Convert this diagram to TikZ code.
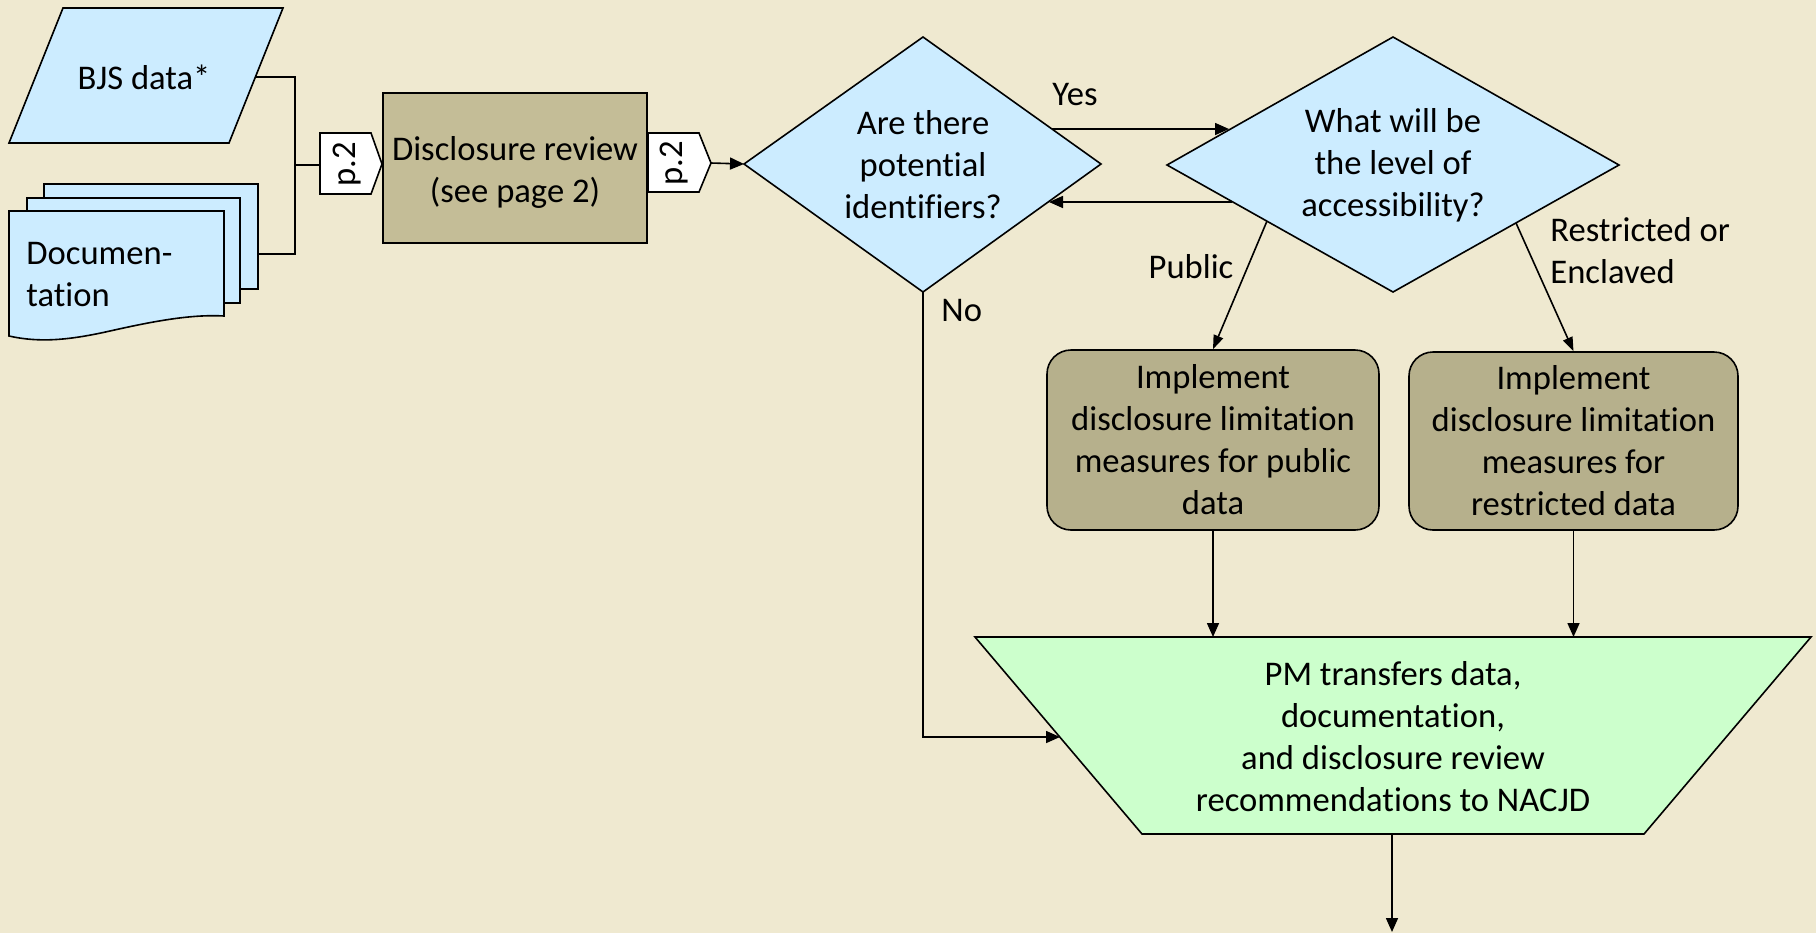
\documentclass[tikz,border=0pt]{standalone}
\usepackage{fontspec}
\setmainfont{Carlito}[Ligatures=NoCommon]
\usetikzlibrary{arrows.meta,calc}
\definecolor{bg}{RGB}{239,233,208}
\definecolor{lblue}{RGB}{204,236,255}
\definecolor{tanA}{RGB}{196,189,151}
\definecolor{tanB}{RGB}{182,176,140}
\definecolor{lgreen}{RGB}{204,255,204}
\begin{document}
\begin{tikzpicture}[x=0.5pt,y=-0.5pt,
  every node/.style={font=\fontsize{17.3}{21}\selectfont, inner sep=0pt},
  ln/.style={line width=0.8pt},
  shp/.style={ln, draw=black, line join=miter},
  arr/.style={ln,-{Triangle[length=7pt,width=6pt]}},
  arrn/.style={ln,-{Triangle[length=7pt,width=5pt]}},
  implbox/.style={shp, draw, rounded corners=12pt, align=center, fill=tanB}]
\fill[bg] (0,0) rectangle (1816,933);
\useasboundingbox (0,0) rectangle (1816,933);

% BJS data (parallelogram)
\draw[shp, fill=lblue] (63,8) -- (283,8) -- (229,143) -- (9,143) -- cycle;
\node (bjs) at (144,77) {BJS data*};
\coordinate (bjsR) at (256,77);

% Documentation (multi-document)
\draw[shp, fill=lblue] (44,184) rectangle (258,289);
\draw[shp, fill=lblue] (27,198) rectangle (240,303);
\draw[shp, fill=lblue] (9,211) -- (224,211) -- (224,316)
  .. controls (190,314) and (150,322) .. (110,331)
  .. controls (70,340) and (40,343) .. (9,336) -- cycle;
\node[anchor=west, align=left] (doc) at (26,275) {Documen-\\tation};
\coordinate (docR) at (258,254);

% junction
\coordinate (jn) at (295,165);
\draw[ln] (bjsR) -- (bjsR -| jn) -- (docR -| jn) -- (docR);

% off-page connector 1
\draw[shp, fill=white] (320,133) -- (371,133) -- (382,164) -- (371,194) -- (320,194) -- cycle;
\node[rotate=90] (op1) at (347,164) {p.2};
\coordinate (op1L) at (320,165);
\draw[ln] (jn) -- (op1L);

% Disclosure review
\node[shp, draw, fill=tanA, minimum width=132pt, minimum height=75pt] (dr) at (515,168) {};
\node[align=center] (drt) at (515,172) {Disclosure review\\(see page 2)};

% off-page connector 2
\draw[shp, fill=white] (648,133) -- (699,133) -- (711,163) -- (699,192) -- (648,192) -- cycle;
\node[rotate=90] (op2) at (674,163) {p.2};
\coordinate (op2R) at (711,163);

% Diamond 1
\coordinate (d1T) at (923,37);
\coordinate (d1R) at (1101,164);
\coordinate (d1B) at (923,292);
\coordinate (d1L) at (744,164);
\draw[shp, fill=lblue] (d1T) -- (d1R) -- (d1B) -- (d1L) -- cycle;
\node[align=center] (d1) at (923,165) {Are there\\potential\\identifiers?};

% Diamond 2
\coordinate (d2T) at (1393,37);
\coordinate (d2R) at (1619,165);
\coordinate (d2B) at (1393,292);
\coordinate (d2L) at (1167,165);
\draw[shp, fill=lblue] (d2T) -- (d2R) -- (d2B) -- (d2L) -- cycle;
\node[align=center] (d2) at (1393,165) {What will be\\the level of\\accessibility?};

\draw[arr] (op2R) -- (d1L);

% Yes / back arrows
\coordinate (yesS) at (1052,129);
\coordinate (yesE) at (1229,129);
\draw[arr] (yesS) -- (yesE);
\node (yes) at (1075,95) {Yes};
\coordinate (backS) at (1232,202);
\coordinate (backE) at (1049,202);
\draw[arr] (backS) -- (backE);

% Implement boxes
\node[implbox, minimum width=166pt, minimum height=90pt] (im1) at (1213,440)
  {Implement\\disclosure limitation\\measures for public\\data};
\node[implbox, minimum width=164.5pt, minimum height=89pt] (im2) at (1573.5,441)
  {Implement\\disclosure limitation\\measures for\\restricted data};

% Public / Restricted arrows
\coordinate (pubS) at (1267,221);
\coordinate (resS) at (1516,223);
\draw[arrn] (pubS) -- (im1.north);
\draw[arrn] (resS) -- (im2.north);
\node (pub) at (1191,267) {Public};
\node[anchor=west, align=left] (rest) at (1550,251) {Restricted or\\Enclaved};

% Trapezoid (manual operation)
\coordinate (tTL) at (975,637);
\coordinate (tTR) at (1811,637);
\coordinate (tBR) at (1644,834);
\coordinate (tBL) at (1142,834);
\draw[shp, fill=lgreen] (tTL) -- (tTR) -- (tBR) -- (tBL) -- cycle;
\node[align=center] (pm) at (1393,737) {PM transfers data,\\documentation,\\and disclosure review\\recommendations to NACJD};

\draw[arr] (im1.south) -- (im1.south |- tTL);
\draw[arr] (im2.south) -- (im2.south |- tTL);

% No path
\coordinate (noE) at (1060,737);
\draw[arr] (d1B) |- (noE);
\node[anchor=west] (no) at (941,311) {No};

% output
\coordinate (pmB) at (1392,834);
\coordinate (out) at (1392,932);
\draw[arr] (pmB) -- (out);
\end{tikzpicture}
\end{document}
